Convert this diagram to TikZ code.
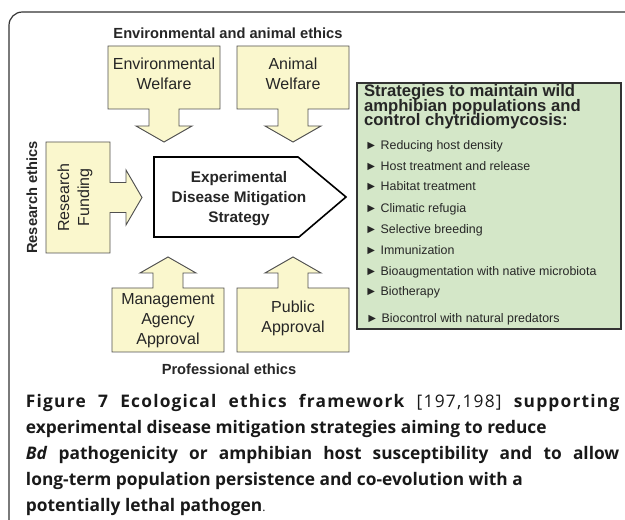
\documentclass[tikz,border=0pt]{standalone}
\usepackage{fontspec}
\setmainfont{Liberation Sans}
\newfontfamily\capfont{Open Sans}
\definecolor{boxyellow}{HTML}{FAF7CD}
\definecolor{boxgreen}{HTML}{D4E7C8}
\definecolor{edgegray}{HTML}{505050}
\newcommand\tightlines{\lineskiplimit=-20pt\relax}

\begin{document}
\begin{tikzpicture}[x=0.75pt,y=-0.75pt]
\tikzset{ inner sep=0pt, outer sep=0pt,
  ethic/.style={font=\fontsize{11}{13}\selectfont\bfseries, text=black!85},
  boxtxt/.style={font=\fontsize{12}{15}\selectfont, align=center, text=black!85},
  item/.style={anchor=base west, font=\fontsize{9.3}{11}\selectfont, text=black!85},
  arrowbox/.style={fill=boxyellow, draw=edgegray, line width=0.7pt},
}

\useasboundingbox (0,0) rectangle (625,520);

% moldura
\draw [line width=0.9pt, black!80, rounded corners=10] (9,520) -- (9,12) -- (625,12);

% caixas amarelas (setas)
\draw [arrowbox] (108,46) -- (220,46) -- (220,109) -- (179,109) -- (179,126) -- (192,126) -- (164,142)
                 -- (136,126) -- (149,126) -- (149,109) -- (108,109) -- cycle;
\draw [arrowbox] (237,46) -- (349,46) -- (349,109) -- (308,109) -- (308,126) -- (321,126) -- (293,142)
                 -- (265,126) -- (278,126) -- (278,109) -- (237,109) -- cycle;
\draw [arrowbox] (46,142) -- (110,142) -- (110,182.5) -- (126,182.5) -- (126,170) -- (142,197.5)
                 -- (126,225) -- (126,212.5) -- (110,212.5) -- (110,253) -- (46,253) -- cycle;
\draw [arrowbox] (112,352) -- (112,288) -- (153,288) -- (153,273) -- (140,273) -- (168,257)
                 -- (196,273) -- (183,273) -- (183,288) -- (224,288) -- (224,352) -- cycle;
\draw [arrowbox] (237,352) -- (237,288) -- (278,288) -- (278,273) -- (265,273) -- (293,257)
                 -- (321,273) -- (308,273) -- (308,288) -- (349,288) -- (349,352) -- cycle;

% estrategia central
\draw [fill=white, draw=black, line width=1.2pt] (154,157) -- (298,157) -- (346,197) -- (299,237) -- (154,237) -- cycle;

% caixa verde
\draw [fill=boxgreen, draw=black!80, line width=0.8pt] (357,83) rectangle (621,329);

% rotulos de etica
\node [ethic] (envethics) at (228,33) {Environmental and animal ethics};
\node [ethic] (profethics) at (229,369) {Professional ethics};
\node [ethic, rotate=90] (resethics) at (32,197.5) {Research ethics};

% textos das caixas
\node [boxtxt] (envwelf) at (164,74) {Environmental\\Welfare};
\node [boxtxt] (animwelf) at (293,74) {Animal\\Welfare};
\node [boxtxt, rotate=90] (funding) at (75,197.5) {Research\\Funding};
\node [boxtxt] (mgmt) at (168,321) {Management\\Agency\\Approval};
\node [boxtxt] (public) at (293,318) {Public\\Approval};
\node [font=\fontsize{11.5}{15}\selectfont\bfseries, align=center, text=black!85] (strategy) at (239,199)
      {Experimental\\Disease Mitigation\\Strategy};

% lista de estrategias
\node [anchor=north west, align=left, text=black!85,
       font=\fontsize{12.5}{11.2}\selectfont\bfseries\tightlines] (heading) at (364,84)
      {Strategies to maintain wild\\amphibian populations and\\control chytridiomycosis:};
\node [item] (it1) at (365,149.5) {► Reducing host density};
\node [item] (it2) at (365,170.5) {► Host treatment and release};
\node [item] (it3) at (365,190.5) {► Habitat treatment};
\node [item] (it4) at (365,212.5) {► Climatic refugia};
\node [item] (it5) at (365,233.5) {► Selective breeding};
\node [item] (it6) at (365,254.5) {► Immunization};
\node [item] (it7) at (365,275.5) {► Bioaugmentation with native microbiota};
\node [item] (it8) at (365,295.5) {► Biotherapy};
\node [item] (it9) at (366,322.5) {► Biocontrol with natural predators};

% legenda
\node [anchor=north west, align=left, text=black!90,
       font=\capfont\bfseries\fontsize{13}{19.5}\selectfont] (caption) at (26,394.5)
      {\makebox[445pt][s]{\addfontfeatures{LetterSpace=7}Figure 7 Ecological ethics framework {\mdseries[197,198]} supporting}\\
       experimental disease mitigation strategies aiming to reduce\\
       \makebox[445pt][s]{\textit{Bd} pathogenicity or amphibian host susceptibility and to allow}\\
       long-term population persistence and co-evolution with a\\
       potentially lethal pathogen{\mdseries\small.}};

\end{tikzpicture}
\end{document}
